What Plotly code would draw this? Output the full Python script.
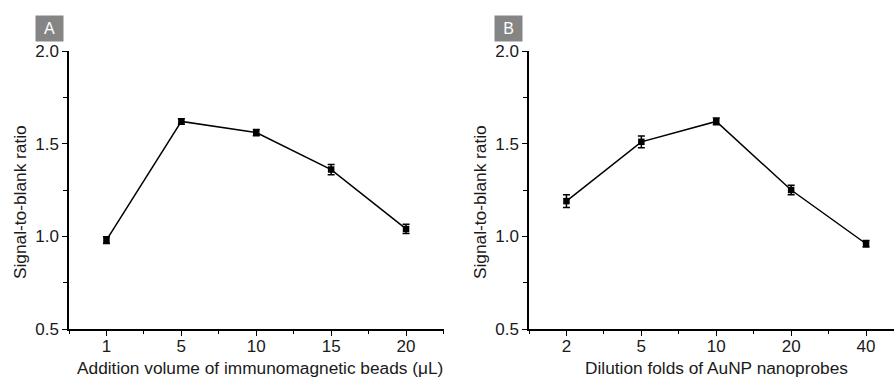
import plotly.graph_objects as go

# Panel A data
a_labels = ["1", "5", "10", "15", "20"]
a_values = [0.98, 1.62, 1.56, 1.36, 1.04]
a_errors = [0.018, 0.015, 0.017, 0.028, 0.025]

# Panel B data
b_labels = ["2", "5", "10", "20", "40"]
b_values = [1.19, 1.51, 1.62, 1.25, 0.96]
b_errors = [0.035, 0.032, 0.018, 0.025, 0.018]

y_ticks = [0.5, 1.0, 1.5, 2.0]
y_minor = [0.75, 1.25, 1.75]

W, H = 894, 379
FONT = "Liberation Sans, Arial, sans-serif"
TXT = "#1a1a1a"

def px(x):
    return x / W

def py(y):
    return 1 - y / H

fig = go.Figure()

for i, (labels, vals, errs) in enumerate([(a_labels, a_values, a_errors), (b_labels, b_values, b_errors)]):
    suffix = "" if i == 0 else "2"
    fig.add_trace(go.Scatter(
        x=list(range(len(labels))), y=vals,
        mode="lines+markers",
        line=dict(color="black", width=1.5),
        marker=dict(symbol="square", size=6.5, color="black"),
        error_y=dict(type="data", array=errs, visible=True, color="black", thickness=1.5, width=3.5),
        xaxis="x" + suffix, yaxis="y" + suffix, showlegend=False,
    ))

plot_top = 51
plot_bot = 329
ydom = [py(plot_bot), py(plot_top)]

def xaxis_cfg(labels, domain, rng, anchor):
    return dict(
        domain=domain, range=rng, anchor=anchor, automargin=False,
        tickvals=list(range(len(labels))), ticktext=labels,
        ticks="outside", ticklen=5, tickwidth=1.3, tickcolor="black",
        ticklabelstandoff=-4,
        showline=True, linecolor="black", linewidth=1.5,
        showgrid=False, zeroline=False,
        tickfont=dict(family=FONT, size=17, color=TXT),
        minor=dict(tickvals=[k + 0.5 for k in range(-1, len(labels))], ticks="outside",
                   ticklen=3, tickwidth=1.3, tickcolor="black", showgrid=False),
        fixedrange=True,
    )

def yaxis_cfg(anchor):
    return dict(
        domain=ydom, range=[0.5, 2.0], anchor=anchor, automargin=False,
        tickvals=y_ticks, ticktext=[f"{v:.1f}" for v in y_ticks],
        ticks="outside", ticklen=5, tickwidth=1.3, tickcolor="black",
        showline=True, linecolor="black", linewidth=1.5,
        showgrid=False, zeroline=False,
        tickfont=dict(family=FONT, size=17, color=TXT),
        minor=dict(tickvals=y_minor, ticks="outside", ticklen=4, tickwidth=1.3,
                   tickcolor="black", showgrid=False),
        fixedrange=True,
    )

# pixel positions of axes
a_left, a_right = 69, 443.5
b_left = 529
unit = (a_right - a_left) / 5.0
b_right_val = -0.5 + (W - b_left) / unit

fig.update_layout(
    width=W, height=H,
    margin=dict(l=0, r=0, t=0, b=0, autoexpand=False),
    paper_bgcolor="white", plot_bgcolor="white",
    xaxis=xaxis_cfg(a_labels, [px(a_left), px(a_right)], [-0.5, 4.5], "y"),
    yaxis=yaxis_cfg("x"),
    xaxis2=xaxis_cfg(b_labels, [px(b_left), 1.0], [-0.5, b_right_val], "y2"),
    yaxis2=yaxis_cfg("x2"),
)

annots = []
# panel labels
for lbl, x0 in [("A", 35), ("B", 494)]:
    annots.append(dict(
        text=lbl, xref="paper", yref="paper", x=px(x0), y=py(15),
        xanchor="left", yanchor="top", showarrow=False,
        bgcolor="#858585", width=27, height=25, borderpad=0,
        font=dict(family=FONT, size=16, color="white"),
    ))
# axis titles
for txt, xc in [("Addition volume of immunomagnetic beads (\u03bcL)", 260),
                ("Dilution folds of AuNP nanoprobes", 716)]:
    annots.append(dict(text=txt, xref="paper", yref="paper", x=px(xc), y=py(368),
                       xanchor="center", yanchor="middle", showarrow=False,
                       font=dict(family=FONT, size=17.3, color=TXT)))
for xc in [20, 480]:
    annots.append(dict(text="Signal-to-blank ratio", xref="paper", yref="paper",
                       x=px(xc), y=py(202), xanchor="center", yanchor="middle",
                       textangle=-90, showarrow=False,
                       font=dict(family=FONT, size=17.3, color=TXT)))
fig.update_layout(annotations=annots)

fig.write_html(
    "out.html",
    config={"displayModeBar": False},
    post_script="document.body.style.margin='0';document.body.style.overflow='hidden';",
)
